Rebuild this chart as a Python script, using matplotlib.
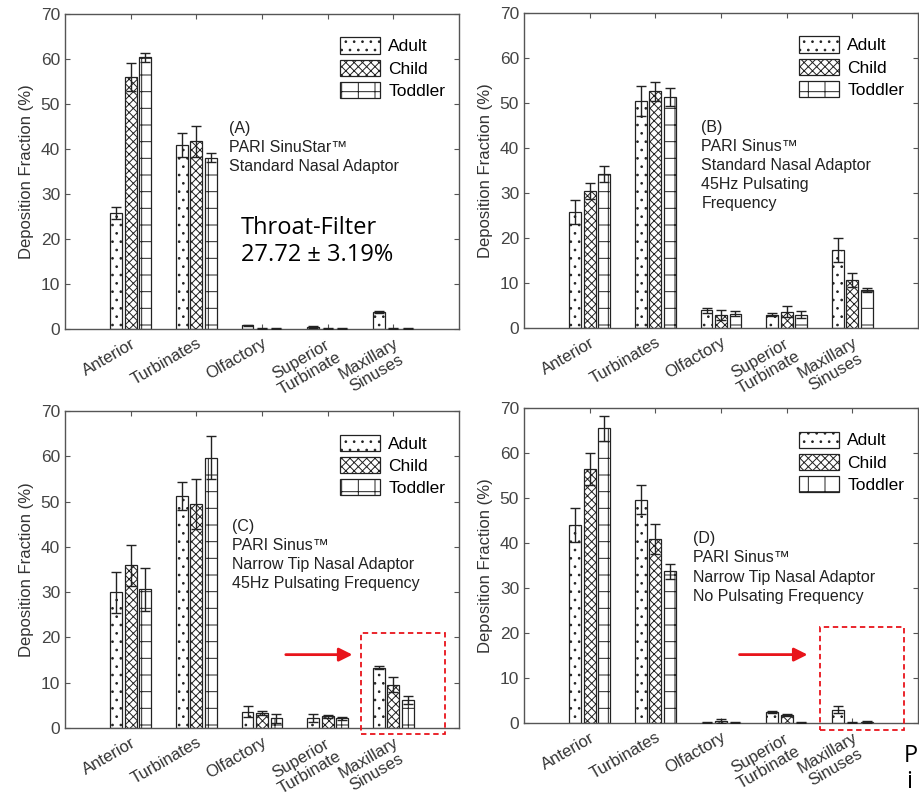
import numpy as np
import matplotlib.pyplot as plt
from matplotlib.patches import Patch, Rectangle, FancyArrowPatch

plt.rcParams['font.family'] = ['Liberation Sans', 'DejaVu Sans']
plt.rcParams['hatch.linewidth'] = 0.7

categories = ['Anterior', 'Turbinates', 'Olfactory', 'Superior\nTurbinate', 'Maxillary\nSinuses']
groups = ['Adult', 'Child', 'Toddler']

# panel A: PARI SinuStar, standard adaptor
a_adult = [25.8, 40.9, 0.8, 0.5, 3.7]
a_child = [56.0, 41.7, 0.1, 0.1, 0.1]
a_toddler = [60.4, 38.0, 0.1, 0.1, 0.1]
a_adult_err = [1.4, 2.7, 0.2, 0.2, 0.2]
a_child_err = [3.2, 3.5, 0.1, 0.1, 0.1]
a_toddler_err = [1.0, 1.0, 0.1, 0.1, 0.1]

# panel B: PARI Sinus, standard adaptor, 45Hz
b_adult = [25.8, 50.4, 3.9, 3.0, 17.3]
b_child = [30.4, 52.6, 2.8, 3.6, 10.7]
b_toddler = [34.3, 51.4, 3.2, 3.0, 8.4]
b_adult_err = [2.6, 3.3, 0.5, 0.4, 2.6]
b_child_err = [1.8, 2.1, 1.1, 1.2, 1.5]
b_toddler_err = [1.8, 2.0, 0.6, 0.8, 0.4]

# panel C: PARI Sinus, narrow tip, 45Hz
c_adult = [30.0, 51.2, 3.6, 2.3, 13.3]
c_child = [35.9, 49.4, 3.3, 2.6, 9.6]
c_toddler = [30.6, 59.7, 2.1, 2.1, 6.1]
c_adult_err = [4.5, 3.1, 1.2, 0.9, 0.3]
c_child_err = [4.5, 5.5, 0.4, 0.3, 1.7]
c_toddler_err = [4.8, 4.7, 0.9, 0.4, 0.9]

# panel D: PARI Sinus, narrow tip, no pulsation
d_adult = [44.0, 49.6, 0.1, 2.4, 3.0]
d_child = [56.5, 40.9, 0.5, 1.8, 0.1]
d_toddler = [65.5, 33.7, 0.1, 0.1, 0.2]
d_adult_err = [3.8, 3.2, 0.1, 0.2, 0.7]
d_child_err = [3.5, 3.4, 0.4, 0.3, 0.1]
d_toddler_err = [2.8, 1.7, 0.1, 0.1, 0.2]

panel_notes = {
    'A': '(A)\nPARI SinuStar\u2122\nStandard Nasal Adaptor',
    'B': '(B)\nPARI Sinus\u2122\nStandard Nasal Adaptor\n45Hz Pulsating\nFrequency',
    'C': '(C)\nPARI Sinus\u2122\nNarrow Tip Nasal Adaptor\n45Hz Pulsating Frequency',
    'D': '(D)\nPARI Sinus\u2122\nNarrow Tip Nasal Adaptor\nNo Pulsating Frequency',
}

hatches = ['..', 'xxxx', '+']
W, H = 919, 796
fig = plt.figure(figsize=(W / 100, H / 100), dpi=100)


def px_axes(l, t, r, b):
    return fig.add_axes([l / W, 1 - b / H, (r - l) / W, (b - t) / H])


def draw_panel(ax, series, errs, note, note_xy):
    x = np.arange(1, len(categories) + 1)
    offs = [-0.22, 0.0, 0.22]
    for vals, err, off, h in zip(series, errs, offs, hatches):
        ax.bar(x + off, vals, width=0.18, color='white', edgecolor='#222222',
               linewidth=0.9, hatch=h, zorder=2)
        ax.errorbar(x + off, vals, yerr=err, fmt='none', ecolor='#222222',
                    elinewidth=1.0, capsize=3.5, capthick=1.0, zorder=3)
    ax.set_xlim(0, 6)
    ax.set_ylim(0, 70)
    ax.set_yticks(range(0, 71, 10))
    ax.set_xticks(x)
    ax.set_xticklabels(categories, fontsize=12, color='#333333')
    for lab in ax.get_xticklabels():
        lab.set_rotation(30)
        lab.set_ha('right')
        lab.set_rotation_mode('anchor')
        lab.set_multialignment('center')
        lab.set_linespacing(1.1)
    ax.tick_params(direction='in', top=True, right=True, length=3.5,
                   color='#555555', labelsize=12.5, labelcolor='#444444')
    ax.tick_params(axis='x', pad=5, labelsize=12, labelcolor='#333333')
    for s in ax.spines.values():
        s.set_color('#555555')
        s.set_linewidth(1.0)
    ax.set_ylabel('Deposition Fraction (%)', fontsize=12, color='#333333', labelpad=5)
    handles = [Patch(facecolor='white', edgecolor='#222222', hatch=h, linewidth=0.9)
               for h in hatches]
    ax.legend(handles, groups, loc='upper right', frameon=False, fontsize=12.5,
              handlelength=2.3, handleheight=1.05, handletextpad=0.5,
              labelspacing=0.3, borderaxespad=0.5, bbox_to_anchor=(1.005, 0.975))
    ax.text(note_xy[0], note_xy[1], note, fontsize=11.5, color='#222222',
            va='top', ha='left', linespacing=1.35)


def mark_box(ax, x0, x1, y0, y1, ax_from, ax_to, ay):
    rect = Rectangle((x0, y0), x1 - x0, y1 - y0, fill=False, edgecolor='#e8141b',
                     linestyle=(0, (3, 2)), linewidth=1.3, clip_on=False, zorder=4)
    ax.add_patch(rect)
    arr = FancyArrowPatch((ax_from, ay), (ax_to, ay), arrowstyle='-|>',
                          mutation_scale=20, color='#e8141b', linewidth=2.0,
                          clip_on=False, zorder=4)
    ax.add_patch(arr)


ax_a = px_axes(65, 14, 459, 329)
draw_panel(ax_a, [a_adult, a_child, a_toddler],
           [a_adult_err, a_child_err, a_toddler_err], panel_notes['A'], (2.5, 46.3))
ax_a.text(2.68, 25.2, 'Throat-Filter\n27.72 \u00b1 3.19%', fontsize=17,
          family=['Open Sans', 'DejaVu Sans'], va='top', ha='left', linespacing=1.2,
          color='black')

ax_b = px_axes(524, 13, 918, 328)
draw_panel(ax_b, [b_adult, b_child, b_toddler],
           [b_adult_err, b_child_err, b_toddler_err], panel_notes['B'], (2.7, 46.3))

ax_c = px_axes(65, 411, 459, 728)
draw_panel(ax_c, [c_adult, c_child, c_toddler],
           [c_adult_err, c_child_err, c_toddler_err], panel_notes['C'], (2.55, 46.2))
mark_box(ax_c, 4.51, 5.79, -1.4, 21.0, 3.32, 4.42, 16.2)

ax_d = px_axes(524, 408, 918, 723)
draw_panel(ax_d, [d_adult, d_child, d_toddler],
           [d_adult_err, d_child_err, d_toddler_err], panel_notes['D'], (2.58, 42.6))
mark_box(ax_d, 4.5, 5.78, -1.5, 21.4, 3.24, 4.36, 15.2)

# caption letters at the lower right edge
fig.text(904 / W, 1 - 756 / H, 'P', fontsize=17, family=['Open Sans', 'DejaVu Sans'],
         va='center', ha='left')
fig.text(906 / W, 1 - 782 / H, 'i', fontsize=17, family=['Open Sans', 'DejaVu Sans'],
         va='center', ha='left')

fig.savefig('out.png', dpi=100)
